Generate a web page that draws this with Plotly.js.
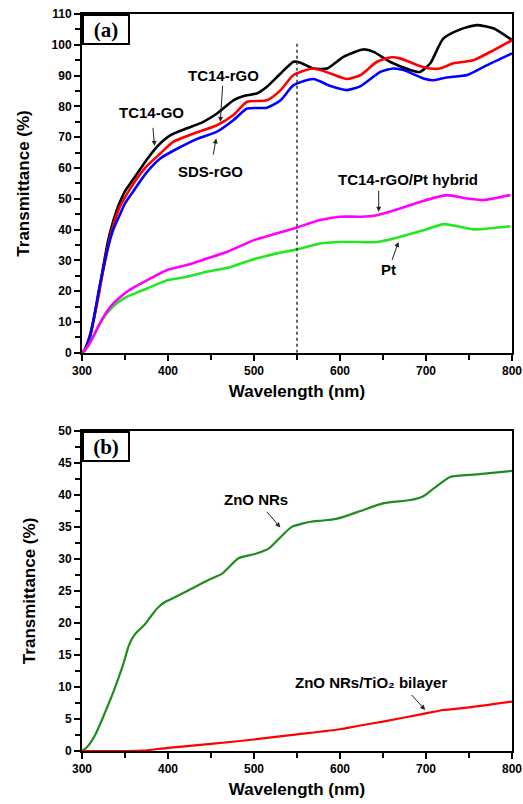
<!DOCTYPE html>
<html>
<head>
<meta charset="utf-8">
<script src="https://cdn.plot.ly/plotly-3.0.1.min.js"></script>
<style>html,body{margin:0;padding:0;background:#fff;}#chart{width:523px;height:804px;}</style>
</head>
<body>
<div id="chart"></div>
<script>
// ---- Panel (a) data ----
const wl_tc14go = [300,303,306,310,315,320,325,330,335,340,345,350,360,375,387,403,422,441,457,476,488,503,515,531,546,554,569,585,604,627,639,658,682,693,705,720,740,759,779,800];
const t_tc14go  = [0,1,3,6.5,13,20.5,28.5,36,41.5,46,49.5,52.5,56.5,62.6,66.9,70.7,72.9,75,77.7,82,83.4,84.2,86.4,90.7,94.5,94.2,92.3,92.3,96.1,98.5,97.7,94.5,91.8,91.2,94,102,105,106.4,105.3,101.5];

const wl_tc14rgo = [300,303,306,310,315,320,325,330,335,340,345,350,360,375,391,406,430,457,476,492,515,531,546,569,589,608,624,643,658,670,690,705,716,732,755,779,800];
const t_tc14rgo  = [0,0.8,2.5,6,12.5,19.5,27.5,34.5,40,44.5,48,50.5,55,60.5,64.7,68.5,71.2,73.9,77.2,81.5,82,85.3,90.2,92.3,90.7,88.9,90.2,94.5,95.9,95.6,93.4,92.3,92.3,94,95,98.3,101.5];

const wl_sdsrgo = [300,303,306,310,315,320,325,331,337,343,350,358,375,391,430,457,476,492,515,531,546,569,589,608,624,647,662,674,697,709,724,748,771,800];
const t_sdsrgo  = [0,0.7,2.5,6,13,21,27.5,35,40.5,44.2,48.5,51.8,58.5,63.1,69,71.8,75.5,79.3,79.6,82,86.9,88.9,86.6,85.3,86.6,91.2,92.3,91.8,89.1,88.5,89.4,90.2,93.4,97.2];

const wl_hybrid = [300,306,313,319,325,331,337,344,352,364,376,388,399,422,445,469,500,527,550,577,600,624,643,670,693,724,745,767,798];
const t_hybrid  = [0,1.8,5.2,8.6,11.7,14.2,16.2,18,19.8,21.8,23.6,25.4,26.9,28.5,30.6,32.8,36.6,38.8,40.7,43.1,44.2,44.2,44.7,46.9,49,51.2,50.2,49.6,51.2];

const wl_pt = [300,306,313,319,325,331,337,344,352,364,376,388,399,422,445,473,496,527,550,577,600,643,670,697,721,755,798];
const t_pt  = [0,1.8,5.2,8.5,11.3,13.5,15.3,16.8,18.2,19.6,20.9,22.4,23.6,24.7,26.3,27.9,30.1,32.3,33.6,35.5,36,36,37.7,39.8,41.8,40.1,41.1];

const dotted_x = [550,550];
const dotted_y = [0,101];

// ---- Panel (b) data ----
const wl_zno = [300,305,310,316,323,331,337,343,349,354,358,362,368,374,381,389,397,405,424,447,463,482,502,517,533,544,556,566,580,597,620,651,682,697,709,728,759,800];
const t_zno  = [0,0.5,1.3,2.7,4.8,7.4,9.4,11.6,14,16.3,17.5,18.3,19.1,19.9,21.2,22.5,23.3,23.8,25.1,26.7,27.7,30.1,30.8,31.6,33.7,35,35.5,35.8,36,36.3,37.3,38.7,39.2,39.8,41,42.8,43.2,43.75];

const wl_bilayer = [300,350,370,400,450,500,550,600,620,650,697,720,750,800];
const t_bilayer  = [0,0,0.05,0.5,1.1,1.8,2.6,3.4,3.9,4.6,5.8,6.4,6.8,7.7];

// ---- Labels ----
const xTitle = 'Wavelength (nm)';
const yTitle = 'Transmittance (%)';

const F = 'Arial, "Liberation Sans", sans-serif';

function line(x, y, color, w, xa, ya) {
  return {x: x, y: y, type: 'scatter', mode: 'lines', xaxis: xa, yaxis: ya,
          line: {color: color, width: w, shape: 'spline', smoothing: 0.6}, hoverinfo: 'skip', showlegend: false};
}

const traces = [
  line(wl_tc14go, t_tc14go, '#000000', 2.6, 'x', 'y'),
  line(wl_tc14rgo, t_tc14rgo, '#ff0000', 2.6, 'x', 'y'),
  line(wl_sdsrgo, t_sdsrgo, '#0000ff', 2.6, 'x', 'y'),
  line(wl_pt, t_pt, '#22e822', 2.6, 'x', 'y'),
  line(wl_hybrid, t_hybrid, '#ff00ff', 2.6, 'x', 'y'),
  {x: dotted_x, y: dotted_y, type: 'scatter', mode: 'lines', xaxis: 'x', yaxis: 'y',
   line: {color: '#333333', width: 1.5, dash: 'dot'}, hoverinfo: 'skip', showlegend: false},
  line(wl_zno, t_zno, '#1e8c1e', 2.2, 'x2', 'y2'),
  line(wl_bilayer, t_bilayer, '#ff0000', 2.2, 'x2', 'y2')
];

function xax(anchor) {
  return {range: [300, 800], dtick: 100, tick0: 300, anchor: anchor,
    showline: true, linecolor: '#000', linewidth: 2, mirror: true,
    ticks: 'outside', ticklen: 6, tickwidth: 2, tickcolor: '#000',
    minor: {dtick: 50, ticks: 'outside', ticklen: 5, tickwidth: 2, tickcolor: '#000'},
    showgrid: false, zeroline: false,
    tickfont: {family: F, size: 12, color: '#000', weight: 'bold'},
    title: {text: xTitle, standoff: 8, font: {family: F, size: 17, color: '#000', weight: 'bold'}},
    automargin: false};
}
function yax(anchor, range, dtick, minorDtick, domain) {
  return {range: range, dtick: dtick, anchor: anchor, domain: domain,
    showline: true, linecolor: '#000', linewidth: 2, mirror: true,
    ticks: 'outside', ticklen: 6, tickwidth: 2, tickcolor: '#000',
    minor: {dtick: minorDtick, ticks: 'outside', ticklen: 5, tickwidth: 2, tickcolor: '#000'},
    showgrid: false, zeroline: false,
    tickfont: {family: F, size: 12, color: '#000', weight: 'bold'},
    title: {text: yTitle, standoff: 18, font: {family: F, size: 17, color: '#000', weight: 'bold'}},
    automargin: false};
}

const LF = {family: F, size: 15, color: '#000', weight: 'bold'};
// label with its own arrow: (x,y) is the arrow tip, (ax,ay) the pixel offset to the label box centre
function pointer(text, x, y, ax, ay, gap, xr, yr, extra) {
  return Object.assign({text: text, x: x, y: y, ax: ax, ay: ay, xref: xr, yref: yr, showarrow: true,
    font: LF, arrowhead: 2, arrowsize: 1, arrowwidth: 1, arrowcolor: '#222',
    startstandoff: gap, standoff: 0}, extra || {});
}
function panelTag(text, xr, yr) {
  return {text: text, x: 0, y: 1, xref: xr, yref: yr, xanchor: 'left', yanchor: 'top',
    showarrow: false, width: 42, height: 25, bordercolor: '#000', borderwidth: 2, bgcolor: '#fff',
    font: {family: '"Liberation Serif", "Times New Roman", serif', size: 21, color: '#000', weight: 'bold'}};
}

const annotations = [
  panelTag('(a)', 'x domain', 'y domain'),
  panelTag('(b)', 'x2 domain', 'y2 domain'),
  pointer('TC14-GO', 384.4, 67.2, -3, -33, 5, 'x', 'y'),
  pointer('TC14-rGO', 460.8, 75, 3, -46, 0, 'x', 'y'),
  pointer('SDS-rGO', 456, 69.6, -6, 33, 7, 'x', 'y'),
  pointer('TC14-rGO/Pt hybrid', 645, 45.8, 0, -32, 1, 'x', 'y', {width: 198, align: 'right'}),
  pointer('Pt', 668, 36, -10, 28, 0, 'x', 'y'),
  pointer('ZnO NRs', 530.6, 34.9, -24, -28, 3, 'x2', 'y2'),
  pointer('ZnO NRs/TiO\u2082 bilayer', 699, 6.4, -25, -28, 4, 'x2', 'y2', {width: 210, align: 'left'})
];

const layout = {
  width: 523, height: 804,
  margin: {l: 81.7, r: 11.3, t: 14, b: 53.3, pad: 0},
  paper_bgcolor: '#fff', plot_bgcolor: '#fff',
  xaxis: xax('y'),
  yaxis: yax('x', [0, 110], 10, 5, [0.5402, 1]),
  xaxis2: xax('y2'),
  yaxis2: yax('x2', [0, 50], 5, 2.5, [0, 0.4344]),
  annotations: annotations,
  showlegend: false
};

Plotly.newPlot('chart', traces, layout, {displayModeBar: false, staticPlot: true});
</script>
</body>
</html>
